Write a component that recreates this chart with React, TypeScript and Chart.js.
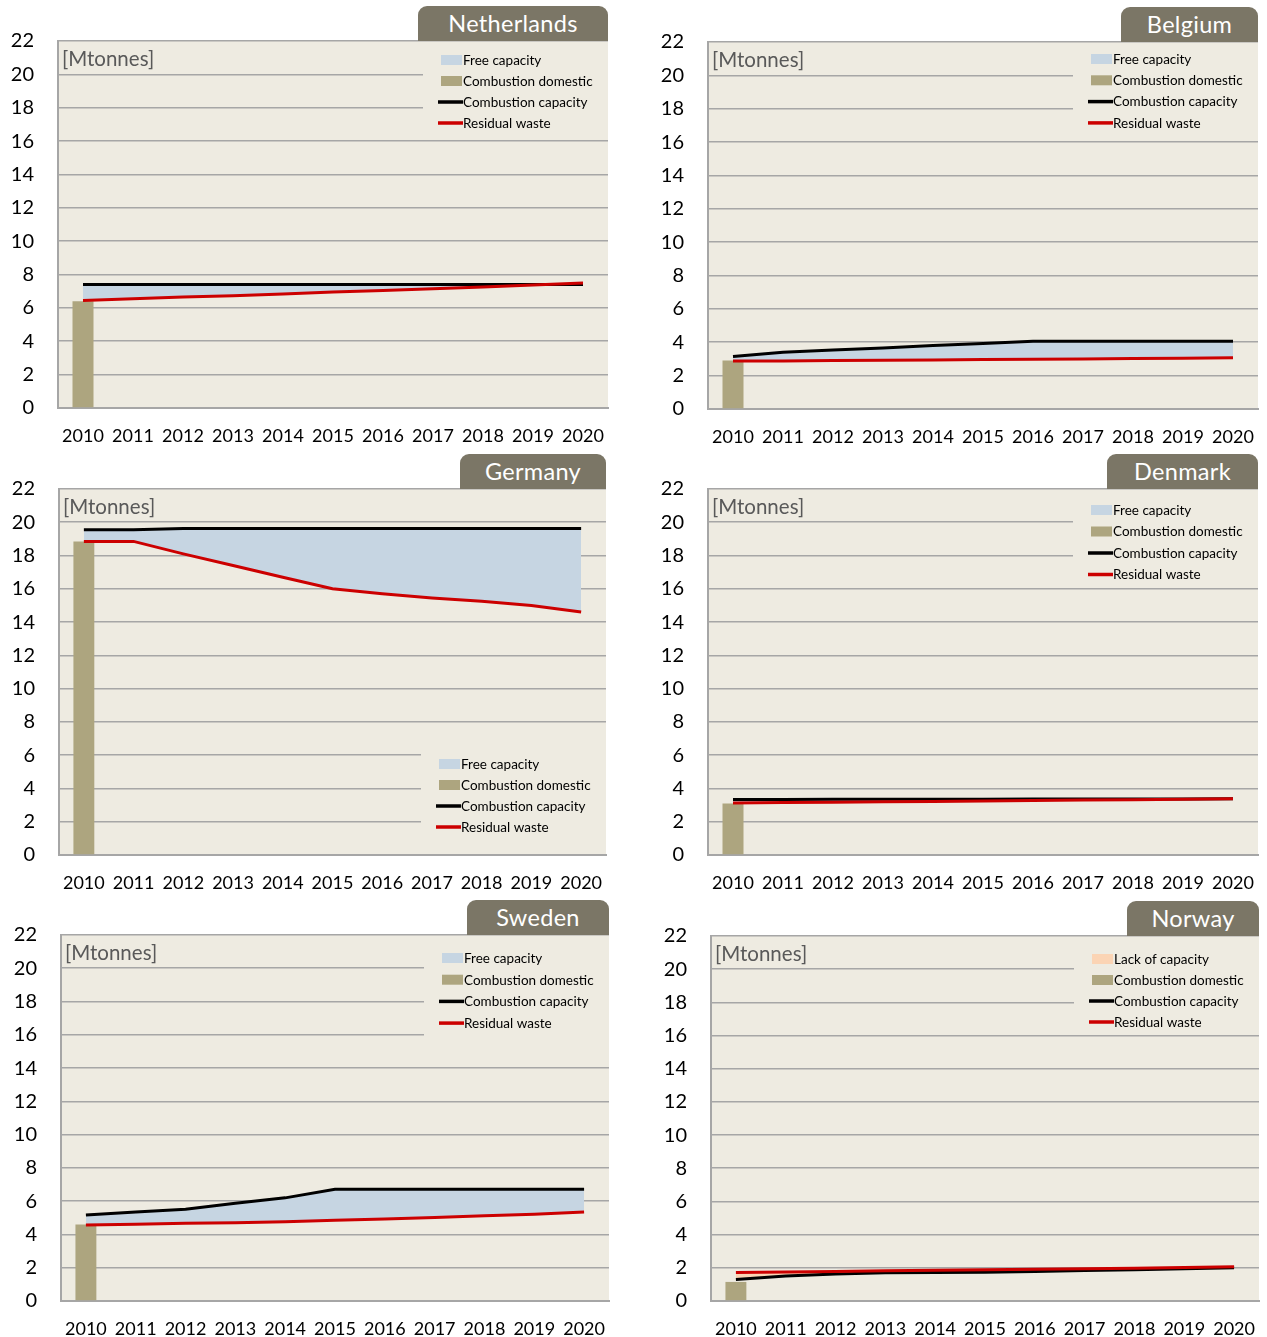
import React, { useEffect, useRef } from 'react';
import { Chart, registerables } from 'chart.js';

Chart.register(...registerables);

// ---------------- DATA ----------------
const years = ['2010', '2011', '2012', '2013', '2014', '2015', '2016', '2017', '2018', '2019', '2020'];
const yTickValues = [0, 2, 4, 6, 8, 10, 12, 14, 16, 18, 20, 22];

const nlDomestic = [6.4, null, null, null, null, null, null, null, null, null, null];
const nlCapacity = [7.4, 7.4, 7.4, 7.4, 7.4, 7.4, 7.4, 7.4, 7.4, 7.4, 7.4];
const nlResidual = [6.45, 6.55, 6.65, 6.73, 6.83, 6.95, 7.05, 7.15, 7.25, 7.37, 7.5];

const beDomestic = [2.9, null, null, null, null, null, null, null, null, null, null];
const beCapacity = [3.15, 3.4, 3.53, 3.66, 3.8, 3.93, 4.06, 4.06, 4.06, 4.06, 4.06];
const beResidual = [2.87, 2.88, 2.9, 2.92, 2.94, 2.96, 2.98, 3.0, 3.02, 3.04, 3.07];

const deDomestic = [18.85, null, null, null, null, null, null, null, null, null, null];
const deCapacity = [19.55, 19.55, 19.62, 19.62, 19.62, 19.62, 19.62, 19.62, 19.62, 19.62, 19.62];
const deResidual = [18.85, 18.85, 18.1, 17.4, 16.7, 16.0, 15.7, 15.45, 15.25, 15.0, 14.6];

const dkDomestic = [3.1, null, null, null, null, null, null, null, null, null, null];
const dkCapacity = [3.34, 3.34, 3.35, 3.35, 3.35, 3.35, 3.36, 3.36, 3.37, 3.37, 3.38];
const dkResidual = [3.12, 3.15, 3.17, 3.2, 3.22, 3.25, 3.27, 3.3, 3.32, 3.35, 3.38];

const seDomestic = [4.6, null, null, null, null, null, null, null, null, null, null];
const seCapacity = [5.17, 5.35, 5.52, 5.87, 6.2, 6.72, 6.72, 6.72, 6.72, 6.72, 6.72];
const seResidual = [4.57, 4.62, 4.67, 4.71, 4.77, 4.85, 4.93, 5.02, 5.12, 5.22, 5.35];

const noDomestic = [1.15, null, null, null, null, null, null, null, null, null, null];
const noCapacity = [1.3, 1.5, 1.63, 1.7, 1.72, 1.74, 1.78, 1.84, 1.88, 1.94, 2.0];
const noResidual = [1.72, 1.75, 1.78, 1.82, 1.85, 1.88, 1.92, 1.95, 1.98, 2.02, 2.06];

// ---------------- STYLE ----------------
const BG = '#eeebe1';
const GRID = '#a6a6a6';
const TAB = '#7b7666';
const BAR = '#ada57f';
const FREE = '#c6d5e2';
const LACK = '#fbd4b4';
const RED = '#cc0000';
const BLACK = '#000000';
const FONT = 'Lato, "Open Sans", sans-serif';

type LegendItem = { kind: 'rect' | 'line'; color: string; label: string };

const freeItems: LegendItem[] = [
  { kind: 'rect', color: FREE, label: 'Free capacity' },
  { kind: 'rect', color: BAR, label: 'Combustion domestic' },
  { kind: 'line', color: BLACK, label: 'Combustion capacity' },
  { kind: 'line', color: RED, label: 'Residual waste' },
];
const lackItems: LegendItem[] = [
  { kind: 'rect', color: LACK, label: 'Lack of capacity' },
  { kind: 'rect', color: BAR, label: 'Combustion domestic' },
  { kind: 'line', color: BLACK, label: 'Combustion capacity' },
  { kind: 'line', color: RED, label: 'Residual waste' },
];

type Panel = {
  title: string;
  domestic: (number | null)[];
  capacity: number[];
  residual: number[];
  below: string;
  items: LegendItem[];
  left: number; top: number; w: number; h: number;
  area: { left: number; top: number; right: number; bottom: number };
  tabW: number;
  legend: { boxTop: number; boxBottom: number; first: number; step: number };
};

const panels: Panel[] = [
  {
    title: 'Netherlands', domestic: nlDomestic, capacity: nlCapacity, residual: nlResidual,
    below: 'rgba(0,0,0,0)', items: freeItems,
    left: 0, top: 0, w: 620, h: 448, area: { left: 58, top: 41, right: 608, bottom: 408 }, tabW: 190,
    legend: { boxTop: 6, boxBottom: 96, first: 19, step: 21 },
  },
  {
    title: 'Belgium', domestic: beDomestic, capacity: beCapacity, residual: beResidual,
    below: 'rgba(0,0,0,0)', items: freeItems,
    left: 650, top: 0, w: 617, h: 448, area: { left: 58, top: 42, right: 608, bottom: 409 }, tabW: 137,
    legend: { boxTop: 6, boxBottom: 96, first: 17, step: 21.3 },
  },
  {
    title: 'Germany', domestic: deDomestic, capacity: deCapacity, residual: deResidual,
    below: 'rgba(0,0,0,0)', items: freeItems,
    left: 0, top: 448, w: 620, h: 447, area: { left: 59, top: 41, right: 606, bottom: 407 }, tabW: 146,
    legend: { boxTop: 256, boxBottom: 362, first: 275, step: 21 },
  },
  {
    title: 'Denmark', domestic: dkDomestic, capacity: dkCapacity, residual: dkResidual,
    below: 'rgba(0,0,0,0)', items: freeItems,
    left: 650, top: 448, w: 617, h: 447, area: { left: 58, top: 41, right: 608, bottom: 407 }, tabW: 151,
    legend: { boxTop: 6, boxBottom: 92, first: 21, step: 21.5 },
  },
  {
    title: 'Sweden', domestic: seDomestic, capacity: seCapacity, residual: seResidual,
    below: 'rgba(0,0,0,0)', items: freeItems,
    left: 0, top: 895, w: 620, h: 442, area: { left: 61, top: 40, right: 609, bottom: 406 }, tabW: 142,
    legend: { boxTop: 6, boxBottom: 108, first: 23, step: 21.7 },
  },
  {
    title: 'Norway', domestic: noDomestic, capacity: noCapacity, residual: noResidual,
    below: LACK, items: lackItems,
    left: 650, top: 895, w: 617, h: 442, area: { left: 61, top: 41, right: 609, bottom: 406 }, tabW: 132,
    legend: { boxTop: 6, boxBottom: 92, first: 23, step: 21 },
  },
];

function makeDecor(p: Panel) {
  return {
    id: 'decor',
    beforeDraw(chart: any) {
      const { ctx, chartArea: a } = chart;
      ctx.save();
      ctx.fillStyle = BG;
      ctx.fillRect(a.left, a.top, a.right - a.left, a.bottom - a.top);
      ctx.restore();
    },
    beforeDatasetsDraw(chart: any) {
      const { ctx, chartArea: a } = chart;
      ctx.save();
      // legend box covering gridlines
      const bx = a.right - 185;
      ctx.fillStyle = BG;
      ctx.fillRect(bx, a.top + p.legend.boxTop, a.right - bx, p.legend.boxBottom - p.legend.boxTop);
      // unit label
      ctx.fillStyle = '#595959';
      ctx.font = `20.5px ${FONT}`;
      ctx.textBaseline = 'middle';
      ctx.textAlign = 'left';
      ctx.fillText('[Mtonnes]', a.left + 4, a.top + 18);
      // legend items
      ctx.font = `13.5px ${FONT}`;
      p.items.forEach((it, i) => {
        const cy = a.top + p.legend.first + i * p.legend.step;
        if (it.kind === 'rect') {
          ctx.fillStyle = it.color;
          ctx.fillRect(bx + 18, cy - 5, 21, 10);
        } else {
          ctx.strokeStyle = it.color;
          ctx.lineWidth = 3.5;
          ctx.beginPath();
          ctx.moveTo(bx + 15, cy);
          ctx.lineTo(bx + 40, cy);
          ctx.stroke();
        }
        ctx.fillStyle = '#000';
        ctx.fillText(it.label, bx + 40, cy + 0.5);
      });
      ctx.restore();
    },
  };
}

function PanelChart({ p }: { p: Panel }) {
  const ref = useRef<HTMLCanvasElement | null>(null);
  useEffect(() => {
    if (!ref.current) return;
    const a = p.area;
    const chart = new Chart(ref.current, {
      type: 'bar',
      data: {
        labels: years,
        datasets: [
          {
            type: 'line',
            label: 'Residual waste',
            data: p.residual,
            borderColor: RED,
            borderWidth: 3,
            pointRadius: 0,
            tension: 0,
            fill: false,
            order: 0,
          } as any,
          {
            type: 'line',
            label: 'Combustion capacity',
            data: p.capacity,
            borderColor: BLACK,
            borderWidth: 3,
            pointRadius: 0,
            tension: 0,
            fill: { target: 0, above: FREE, below: p.below },
            order: 1,
          } as any,
          {
            type: 'bar',
            label: 'Combustion domestic',
            data: p.domestic,
            backgroundColor: BAR,
            borderWidth: 0,
            barPercentage: 0.42,
            categoryPercentage: 1,
            order: 2,
          } as any,
        ],
      },
      options: {
        responsive: false,
        animation: false,
        devicePixelRatio: 1,
        layout: { padding: { left: 0, top: a.top, right: p.w - a.right, bottom: 0 } },
        plugins: { legend: { display: false }, tooltip: { enabled: false }, title: { display: false } },
        scales: {
          x: {
            offset: true,
            grid: { display: false, drawTicks: false },
            border: { display: true, color: GRID, width: 2 },
            ticks: { color: '#000', font: { family: FONT, size: 18 }, padding: 17, maxRotation: 0, autoSkip: false },
            afterFit: (s: any) => {
              s.height = p.h - a.bottom;
              s.paddingLeft = 0;
              s.paddingRight = 0;
            },
          },
          y: {
            min: 0,
            max: 22,
            grid: { color: GRID, lineWidth: 1.6, drawTicks: false },
            border: { display: true, color: GRID, width: 2 },
            ticks: { stepSize: 2, color: '#000', font: { family: FONT, size: 20 }, padding: 24 },
            afterBuildTicks: (s: any) => { s.ticks = yTickValues.map((v) => ({ value: v })); },
            afterFit: (s: any) => {
              s.width = a.left;
              s.paddingTop = 0;
              s.paddingBottom = 0;
            },
          },
        },
      },
      plugins: [makeDecor(p)],
    } as any);
    return () => chart.destroy();
  }, [p]);

  return (
    <div style={{ position: 'absolute', left: p.left, top: p.top, width: p.w, height: p.h }}>
      <canvas ref={ref} width={p.w} height={p.h} style={{ position: 'absolute', left: 0, top: 0 }} />
      <div
        style={{
          position: 'absolute',
          left: p.area.right - p.tabW,
          top: p.area.top - 35,
          width: p.tabW,
          height: 35,
          background: TAB,
          borderRadius: '9px 9px 0 0',
          color: '#fff',
          fontFamily: FONT,
          fontSize: 23.5,
          lineHeight: '35px',
          textAlign: 'center',
          letterSpacing: '0.3px',
        }}
      >
        {p.title}
      </div>
    </div>
  );
}

export default function App() {
  return (
    <div style={{ position: 'absolute', left: 0, top: 0, width: 1267, height: 1337, overflow: 'hidden', background: '#fff' }}>
      {panels.map((p) => (
        <PanelChart key={p.title} p={p} />
      ))}
    </div>
  );
}
